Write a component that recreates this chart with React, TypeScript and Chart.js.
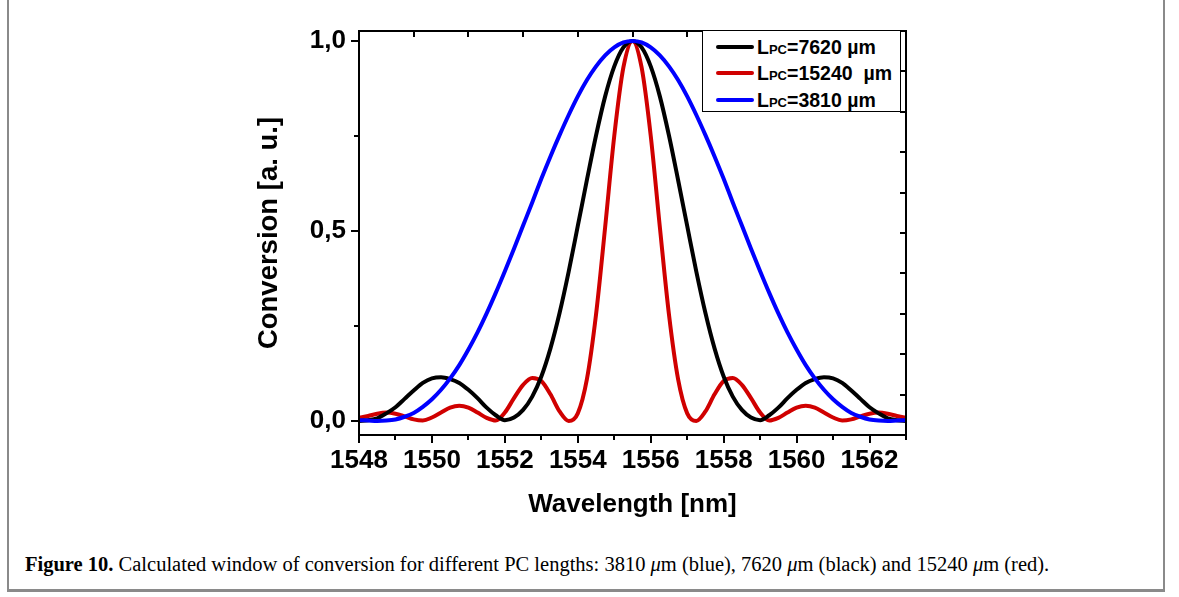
import React, { useEffect, useRef } from "react";
import { Chart, registerables } from "chart.js";

Chart.register(...registerables);

// ---- data ----
const wavelengths = [
  1548, 1548.25, 1548.5, 1548.75, 1549, 1549.25, 1549.5, 1549.75, 1550, 1550.25,
  1550.5, 1550.75, 1551, 1551.25, 1551.5, 1551.75, 1552, 1552.25, 1552.5, 1552.75,
  1553, 1553.25, 1553.5, 1553.75, 1554, 1554.25, 1554.5, 1554.75, 1555, 1555.25,
  1555.5, 1555.75, 1556, 1556.25, 1556.5, 1556.75, 1557, 1557.25, 1557.5, 1557.75,
  1558, 1558.25, 1558.5, 1558.75, 1559, 1559.25, 1559.5, 1559.75, 1560, 1560.25,
  1560.5, 1560.75, 1561, 1561.25, 1561.5, 1561.75, 1562, 1562.25, 1562.5, 1562.75,
  1563,
];

// L_PC = 7620 um (black)
const conv7620 = [
  0.0, 0.002, 0.007, 0.02, 0.036, 0.058, 0.08, 0.1, 0.112, 0.115,
  0.11, 0.1, 0.082, 0.06, 0.035, 0.015, 0.002, 0.009, 0.029, 0.064,
  0.117, 0.191, 0.284, 0.393, 0.513, 0.634, 0.751, 0.854, 0.933, 0.983,
  1.0, 0.983, 0.933, 0.854, 0.751, 0.634, 0.513, 0.393, 0.284, 0.191,
  0.117, 0.064, 0.029, 0.009, 0.002, 0.015, 0.035, 0.06, 0.082, 0.1,
  0.11, 0.115, 0.112, 0.1, 0.08, 0.058, 0.036, 0.02, 0.007, 0.002,
  0.0,
];

// L_PC = 15240 um (red)
const conv15240 = [
  0.008, 0.013, 0.019, 0.022, 0.019, 0.012, 0.004, 0.001, 0.009, 0.022,
  0.035, 0.04, 0.035, 0.022, 0.008, 0.001, 0.022, 0.06, 0.095, 0.113,
  0.105, 0.07, 0.025, 0.0, 0.02, 0.11, 0.28, 0.51, 0.75, 0.93,
  1.0, 0.93, 0.75, 0.51, 0.28, 0.11, 0.02, 0.0, 0.025, 0.07,
  0.105, 0.113, 0.095, 0.06, 0.022, 0.001, 0.008, 0.022, 0.035, 0.04,
  0.035, 0.022, 0.009, 0.001, 0.004, 0.012, 0.019, 0.022, 0.019, 0.013,
  0.008,
];

// L_PC = 3810 um (blue)
const conv3810 = [
  0.002, 0.001, 0.0, 0.001, 0.004, 0.011, 0.021, 0.037, 0.057, 0.082,
  0.112, 0.147, 0.188, 0.233, 0.283, 0.337, 0.394, 0.453, 0.514, 0.575,
  0.637, 0.696, 0.752, 0.805, 0.854, 0.897, 0.933, 0.962, 0.983, 0.996,
  1.0, 0.996, 0.983, 0.962, 0.933, 0.897, 0.854, 0.805, 0.752, 0.696,
  0.637, 0.575, 0.514, 0.453, 0.394, 0.337, 0.283, 0.233, 0.188, 0.147,
  0.112, 0.082, 0.057, 0.037, 0.021, 0.011, 0.004, 0.001, 0.0, 0.001,
  0.002,
];

const xTickValues = [1548, 1550, 1552, 1554, 1556, 1558, 1560, 1562];
const xTickLabels = ["1548", "1550", "1552", "1554", "1556", "1558", "1560", "1562"];
const xMinorValues = [1549, 1551, 1553, 1555, 1557, 1559, 1561, 1563];
const yTickValues = [0, 0.5, 1.0];
const yTickLabels = ["0,0", "0,5", "1,0"];
const yMinorValues = [0.25, 0.75];

const legendLengths = ["7620 \u00b5m", "15240  \u00b5m", "3810 \u00b5m"];
const legendColors = ["#000000", "rgb(208,0,0)", "rgb(0,0,255)"];

const SANS = '"Liberation Sans", Arial, sans-serif';

const framePlugin = {
  id: "frameTicks",
  afterDraw(chart: any) {
    const { ctx, chartArea } = chart;
    const { left, right, top, bottom } = chartArea;
    const xs = chart.scales.x;
    const ys = chart.scales.y;
    ctx.save();
    ctx.strokeStyle = "#000";
    ctx.lineWidth = 2;
    ctx.strokeRect(left, top, right - left, bottom - top);
    ctx.beginPath();
    // bottom ticks (outward)
    xTickValues.forEach((v) => {
      const px = Math.round(xs.getPixelForValue(v));
      ctx.moveTo(px, bottom);
      ctx.lineTo(px, bottom + 8);
    });
    xMinorValues.forEach((v) => {
      const px = Math.round(xs.getPixelForValue(v));
      ctx.moveTo(px, bottom);
      ctx.lineTo(px, bottom + 5);
    });
    // left ticks (outward)
    yTickValues.forEach((v) => {
      const py = Math.round(ys.getPixelForValue(v));
      ctx.moveTo(left, py);
      ctx.lineTo(left - 8, py);
    });
    yMinorValues.forEach((v) => {
      const py = Math.round(ys.getPixelForValue(v));
      ctx.moveTo(left, py);
      ctx.lineTo(left - 5, py);
    });
    // top and right ticks (inward)
    for (let k = 1; k < 10; k++) {
      const px = Math.round(left + ((right - left) * k) / 10);
      ctx.moveTo(px, top);
      ctx.lineTo(px, top + 6);
      const py = Math.round(bottom - ((bottom - top) * k) / 10);
      ctx.moveTo(right, py);
      ctx.lineTo(right - 6, py);
    }
    ctx.stroke();
    ctx.restore();
  },
};

export default function App() {
  const canvasRef = useRef<HTMLCanvasElement | null>(null);

  useEffect(() => {
    if (!canvasRef.current) return;
    const mk = (vals: number[]) => wavelengths.map((x, i) => ({ x, y: vals[i] }));
    const lineStyle = {
      borderWidth: 4,
      pointRadius: 0,
      fill: false,
      cubicInterpolationMode: "monotone" as const,
    };
    const chart = new Chart(canvasRef.current, {
      type: "line",
      data: {
        datasets: [
          { label: "LPC=7620 µm", data: mk(conv7620), borderColor: legendColors[0], order: 1, ...lineStyle },
          { label: "LPC=15240 µm", data: mk(conv15240), borderColor: legendColors[1], order: 2, ...lineStyle },
          { label: "LPC=3810 µm", data: mk(conv3810), borderColor: legendColors[2], order: 0, ...lineStyle },
        ],
      },
      options: {
        animation: false,
        responsive: false,
        devicePixelRatio: 1,
        layout: { padding: { left: 249, right: 273, top: 31, bottom: 5 } },
        plugins: { legend: { display: false }, tooltip: { enabled: false } },
        scales: {
          x: {
            type: "linear",
            min: 1548,
            max: 1563,
            afterFit: (s: any) => {
              s.height = 90;
            },
            afterBuildTicks: (s: any) => {
              s.ticks = xTickValues.map((v) => ({ value: v }));
            },
            grid: { display: false, drawTicks: false },
            border: { display: false },
            ticks: {
              color: "#000",
              padding: 10,
              maxRotation: 0,
              autoSkip: false,
              font: { family: SANS, size: 26, weight: "bold" },
              callback: (_v: any, i: number) => xTickLabels[i],
            },
            title: {
              display: true,
              text: "Wavelength [nm]",
              color: "#000",
              font: { family: SANS, size: 26, weight: "bold" },
              padding: { top: 0, bottom: 5 },
            },
          },
          y: {
            type: "linear",
            min: -0.037,
            max: 1.026,
            afterFit: (s: any) => {
              s.width = 110;
            },
            afterBuildTicks: (s: any) => {
              s.ticks = yTickValues.map((v) => ({ value: v }));
            },
            grid: { display: false, drawTicks: false },
            border: { display: false },
            ticks: {
              color: "#000",
              padding: 13,
              font: { family: SANS, size: 26, weight: "bold" },
              callback: (_v: any, i: number) => yTickLabels[i],
            },
            title: {
              display: true,
              text: "Conversion [a. u.]",
              color: "#000",
              font: { family: SANS, size: 27.5, weight: "bold" },
              padding: { top: 4, bottom: 0 },
            },
          },
        },
      } as any,
      plugins: [framePlugin],
    });
    return () => chart.destroy();
  }, []);

  const rowY = [47, 73, 100];

  return (
    <div
      style={{
        position: "fixed",
        left: 0,
        top: 0,
        width: 1179,
        height: 597,
        background: "#fff",
        overflow: "hidden",
      }}
    >
      <canvas
        ref={canvasRef}
        width={1179}
        height={530}
        style={{ position: "absolute", left: 0, top: 0, width: 1179, height: 530 }}
      />
      {/* legend */}
      <div
        style={{
          position: "absolute",
          left: 702,
          top: 30,
          width: 199,
          height: 82,
          boxSizing: "border-box",
          border: "1.5px solid #000",
          background: "#fff",
        }}
      />
      {legendLengths.map((txt, i) => (
        <React.Fragment key={i}>
          <div
            style={{
              position: "absolute",
              left: 716,
              top: rowY[i] - 2,
              width: 38,
              height: 4,
              background: legendColors[i],
              borderRadius: 2,
            }}
          />
          <div
            style={{
              position: "absolute",
              left: 757,
              top: rowY[i] - 12,
              height: 24,
              lineHeight: "24px",
              fontFamily: SANS,
              fontWeight: "bold",
              fontSize: 19.5,
              color: "#000",
              whiteSpace: "pre",
            }}
          >
            L<span style={{ fontSize: 13 }}>PC</span>={txt}
          </div>
        </React.Fragment>
      ))}
      {/* caption */}
      <div
        style={{
          position: "absolute",
          left: 25,
          top: 553,
          fontFamily: '"Liberation Serif", "Times New Roman", serif',
          fontSize: 20.5,
          color: "#000",
          whiteSpace: "nowrap",
        }}
      >
        <b>Figure 10.</b> Calculated window of conversion for different PC lengths: 3810 <i>μ</i>m (blue), 7620{" "}
        <i>μ</i>m (black) and 15240 <i>μ</i>m (red).
      </div>
      {/* page frame */}
      <div style={{ position: "absolute", left: 7, top: 0, width: 2, height: 591, background: "#8a8a8a" }} />
      <div style={{ position: "absolute", left: 1163, top: 0, width: 2, height: 591, background: "#8a8a8a" }} />
      <div style={{ position: "absolute", left: 7, top: 589, width: 1158, height: 3, background: "#8a8a8a" }} />
    </div>
  );
}
